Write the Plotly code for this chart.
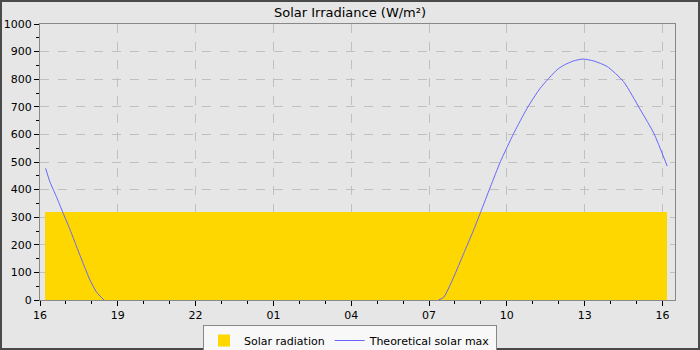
import pandas as pd
import plotly.graph_objects as go

# ---- data ----
theory_times = [
    "2024-05-14 16:13", "2024-05-14 16:23", "2024-05-14 16:38", "2024-05-14 16:54",
    "2024-05-14 17:10", "2024-05-14 17:25", "2024-05-14 17:40", "2024-05-14 17:56",
    "2024-05-14 18:11", "2024-05-14 18:28", "2024-05-15 01:00", "2024-05-15 07:22",
    "2024-05-15 07:34", "2024-05-15 07:57", "2024-05-15 08:20", "2024-05-15 08:43",
    "2024-05-15 08:59", "2024-05-15 09:22", "2024-05-15 09:45", "2024-05-15 10:16",
    "2024-05-15 10:47", "2024-05-15 11:17", "2024-05-15 11:56", "2024-05-15 12:11",
    "2024-05-15 12:34", "2024-05-15 12:56", "2024-05-15 13:21", "2024-05-15 13:52",
    "2024-05-15 14:30", "2024-05-15 15:09", "2024-05-15 15:40", "2024-05-15 16:11",
]
# night-time samples (sun below horizon) left empty: the curve sits on the axis
theory_values = [
    477, 428, 374, 313,
    253, 192, 132, 71,
    28, 0, None, 0,
    10, 83, 168, 253,
    317, 410, 501, 604,
    695, 767, 834, 850,
    866, 873, 866, 846,
    791, 689, 604, 485,
]

radiation_start = "2024-05-14 16:12"
radiation_end = "2024-05-15 16:11"
radiation_value = 318

x_range = ["2024-05-14 16:00", "2024-05-15 16:29"]
y_ticks = list(range(0, 1001, 100))

# ---- figure ----
t0 = pd.Timestamp(radiation_start)
t1 = pd.Timestamp(radiation_end)
bar_center = t0 + (t1 - t0) / 2
bar_width_ms = (t1 - t0).total_seconds() * 1000

FONT = "DejaVu Sans"
BG = "#e6e6e6"

fig = go.Figure()
fig.add_trace(go.Bar(
    x=[bar_center], y=[radiation_value], width=[bar_width_ms],
    name="Solar radiation",
    marker=dict(color="#ffd700", line=dict(width=0)),
))
fig.add_trace(go.Scatter(
    x=theory_times, y=theory_values, mode="lines",
    name="Theoretical solar max", connectgaps=False,
    line=dict(color="#6666ff", width=1, shape="spline", smoothing=0.6),
))

# plot area in px: x 40..675, y 24..300
L, R, T, B = 40, 25, 24, 50
W, H = 700, 350
pw, ph = W - L - R, H - T - B

def px_x(px):
    return (px - L) / pw

def px_y(py):
    return (H - B - py) / ph

fig.add_shape(type="rect", xref="paper", yref="paper",
              x0=px_x(1), x1=px_x(699), y0=px_y(349), y1=px_y(1),
              line=dict(color="#4a4a4a", width=2), fillcolor="rgba(0,0,0,0)",
              layer="below")

fig.update_layout(
    width=W, height=H,
    margin=dict(l=L, r=R, t=T, b=B, pad=0, autoexpand=False),
    paper_bgcolor=BG, plot_bgcolor=BG,
    font=dict(family=FONT, size=11, color="#000000"),
    title=dict(text="Solar Irradiance (W/m²)", x=0.5, xref="container",
               y=1 - 12 / H, yref="container", yanchor="middle", xanchor="center",
               font=dict(family=FONT, size=13, color="#000000")),
    showlegend=True,
    legend=dict(orientation="h", x=0.5, xref="container", xanchor="center",
                y=1 - 325 / H, yref="container", yanchor="top",
                bgcolor="#f8f8f8", bordercolor="#888888", borderwidth=1,
                font=dict(family=FONT, size=11, color="#000000"),
                itemwidth=30, tracegroupgap=0),
    bargap=0,
)
fig.update_xaxes(
    type="date", range=x_range, automargin=False,
    tick0="2024-05-14 16:00", dtick=3 * 3600 * 1000, tickformat="%H",
    ticks="outside", ticklen=5, tickcolor="#000000", tickwidth=1,
    minor=dict(dtick=3600 * 1000, ticks="outside", ticklen=3, tickcolor="#000000",
               showgrid=False),
    showgrid=True, gridcolor="#c0c0c0", griddash="dash", gridwidth=1,
    showline=True, linecolor="#888888", linewidth=1, mirror=True,
    zeroline=False, tickfont=dict(family=FONT, size=11, color="#000000"),
)
fig.update_yaxes(
    range=[0, 1000], tickvals=y_ticks, automargin=False,
    ticks="outside", ticklen=5, tickcolor="#000000", tickwidth=1,
    minor=dict(dtick=50, ticks="outside", ticklen=3, tickcolor="#000000",
               showgrid=False),
    showgrid=True, gridcolor="#c0c0c0", griddash="dash", gridwidth=1,
    showline=True, linecolor="#888888", linewidth=1, mirror=True,
    zeroline=False, tickfont=dict(family=FONT, size=11, color="#000000"),
)

fig.write_html("out.html")
